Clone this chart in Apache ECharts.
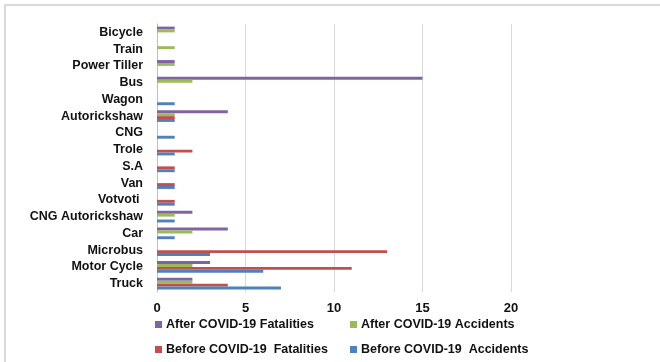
<!DOCTYPE html>
<html><head><meta charset="utf-8">
<script src="https://cdn.jsdelivr.net/npm/echarts@6/dist/echarts.min.js"></script>
<style>html,body{margin:0;padding:0;background:#fff}#c{width:660px;height:362px}</style>
</head><body><div id="c"></div>
<script>
const categories = ['Truck','Motor Cycle','Microbus','Car','CNG Autorickshaw','Votvoti ','Van','S.A','Trole','CNG','Autorickshaw','Wagon','Bus','Power Tiller','Train','Bicycle'];
const beforeAccidents  = [7, 6, 3, 1, 1, 1, 1, 1, 1, 1, 1, 1, 0, 0, 0, 0];
const beforeFatalities = [4, 11, 13, 0, 0, 1, 1, 1, 2, 0, 1, 0, 0, 0, 0, 0];
const afterAccidents   = [2, 2, 0, 2, 1, 0, 0, 0, 0, 0, 1, 0, 2, 1, 1, 1];
const afterFatalities  = [2, 3, 0, 4, 2, 0, 0, 0, 0, 0, 4, 0, 15, 1, 0, 1];
const xTicks = [0, 5, 10, 15, 20];

// ECharts places the first series at the top of each horizontal group
const names = ['After COVID-19 Fatalities','After COVID-19 Accidents','Before COVID-19  Fatalities','Before COVID-19  Accidents'];
const colors = ['#8064A2','#9BBB59','#C0504D','#4F81BD'];
const dataSets = [afterFatalities, afterAccidents, beforeFatalities, beforeAccidents];

const chart = echarts.init(document.getElementById('c'));
const font = 'Liberation Sans';
function lg(name, left, top){
  return {data:[name], left:left, top:top, itemWidth:7, itemHeight:7, itemGap:0, icon:'rect',
    textStyle:{fontFamily:font, fontWeight:'bold', fontSize:12.5, color:'#111', padding:[0,0,0,-1]}, padding:0};
}
chart.setOption({
  animation:false,
  graphic:[{type:'rect', shape:{x:5,y:5,width:700,height:400}, style:{fill:null, stroke:'#d9d9d9', lineWidth:2}}],
  grid:{left:157, right:149, top:24, bottom:70},
  legend:[
    lg(names[0], 155, 318),
    lg(names[1], 350, 318),
    lg(names[2], 155, 343),
    lg(names[3], 350, 343)
  ],
  xAxis:{type:'value', min:xTicks[0], max:xTicks[xTicks.length-1], interval:5,
    axisLine:{show:false}, axisTick:{show:false},
    splitLine:{lineStyle:{color:'#d9d9d9'}},
    axisLabel:{fontFamily:font, fontWeight:'bold', fontSize:13, color:'#111', margin:10}},
  yAxis:{type:'category', data:categories,
    axisLine:{lineStyle:{color:'#bfbfbf'}}, axisTick:{show:false},
    axisLabel:{interval:0, fontFamily:font, fontWeight:'bold', fontSize:12.5, color:'#111', margin:14}},
  series: dataSets.map((d,i)=>({
    type:'bar', name:names[i], data:d, barWidth:2.9, barGap:'0%',
    itemStyle:{color:colors[i]}
  }))
});
</script></body></html>
